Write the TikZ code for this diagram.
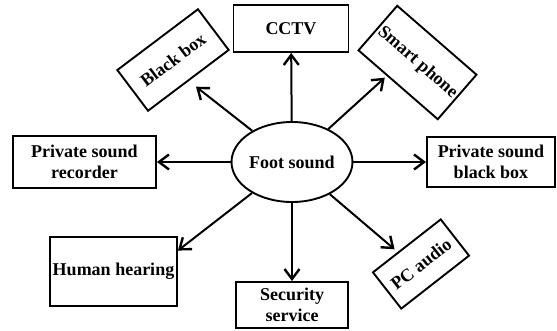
\documentclass[tikz,border=0pt]{standalone}
\usepackage{fontspec}
\setmainfont{Liberation Serif}
\usetikzlibrary{arrows.meta,shapes.geometric,calc}
\begin{document}
\begin{tikzpicture}[x=1pt,y=-1pt,
  box/.style={draw,line width=1.9pt,inner sep=0pt,align=center,
    font=\fontsize{18}{21}\selectfont\bfseries},
  arr/.style={line width=2pt,-{Straight Barb[length=10pt,width=15pt,line width=2.4pt]}}]
\useasboundingbox (0,0) rectangle (557,330);
\node[box,ellipse,minimum width=116pt,minimum height=80pt] (fs) at (292,162) {Foot sound};
\node[box,minimum width=115pt,minimum height=47pt] (cctv) at (291,28.5) {CCTV};
\node[box,minimum width=101pt,minimum height=51pt,rotate=37] (bb) at (173,60) {Black box};
\node[box,minimum width=105pt,minimum height=59pt,rotate=-41] (sp) at (417.5,62.5) {Smart phone};
\node[box,minimum width=143pt,minimum height=52pt] (psr) at (84.5,162) {Private sound\\recorder};
\node[box,minimum width=128pt,minimum height=50pt] (psbb) at (491,162) {Private sound\\black box};
\node[box,minimum width=127pt,minimum height=69pt] (hh) at (113.5,271.5) {Human hearing};
\node[box,minimum width=112pt,minimum height=46pt] (ss) at (292,305) {Security\\service};
\node[box,minimum width=86pt,minimum height=46pt,rotate=38] (pc) at (421,264) {PC audio};
\draw[arr] (fs) -- (cctv);
\draw[arr] (fs) -- (ss);
\draw[arr] (fs) -- (psr);
\draw[arr] (fs) -- (psbb);
\draw[arr,shorten >=9pt] (fs) -- (bb.south);
\draw[arr,shorten >=2.5pt] (fs) -- ($(sp.south)!0.27!(sp.south west)$);
\draw[arr,shorten >=4pt] (fs) -- ($(pc.north)!0.25!(pc.north west)$);
\draw[arr] (fs) -- (hh.18);
\end{tikzpicture}
\end{document}
